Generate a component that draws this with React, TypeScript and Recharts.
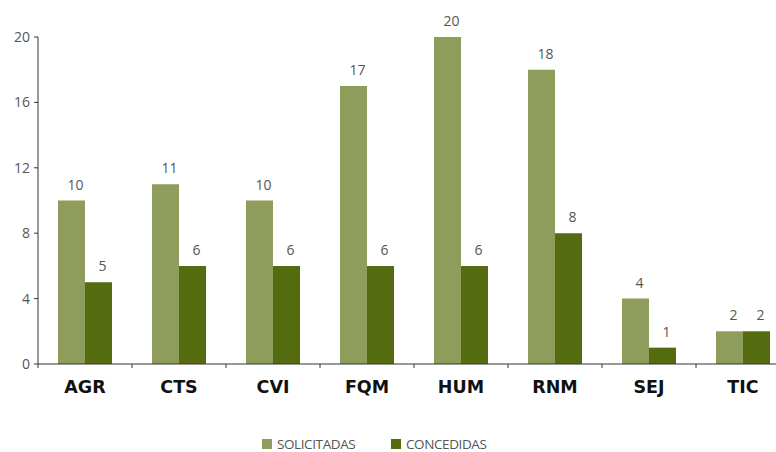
import { BarChart, Bar, XAxis, YAxis, LabelList } from "recharts";

const categories = ["AGR", "CTS", "CVI", "FQM", "HUM", "RNM", "SEJ", "TIC"];
const solicitadas = [10, 11, 10, 17, 20, 18, 4, 2];
const concedidas = [5, 6, 6, 6, 6, 8, 1, 2];
const yTicks = [0, 4, 8, 12, 16, 20];

const LIGHT = "#8e9c5c";
const DARK = "#556b10";
const FONT = "'Open Sans', sans-serif";

const data = categories.map((c, i) => ({
  cat: c,
  solicitadas: solicitadas[i],
  concedidas: concedidas[i],
}));

function CatTick(props: any) {
  const { x, y, payload, index, visibleTicksCount } = props;
  const half = payload.offset ?? 0;
  const last = index === (visibleTicksCount ?? categories.length) - 1;
  return (
    <g>
      <line x1={x - half} x2={x - half} y1={y - 8} y2={y - 4} stroke="#333" />
      {last && <line x1={x + half} x2={x + half} y1={y - 8} y2={y - 4} stroke="#333" />}
      <text
        x={x}
        y={y + 21}
        textAnchor="middle"
        fontFamily="'DejaVu Sans', sans-serif"
        fontWeight={700}
        fontSize={17.5}
        fill="#111"
      >
        {payload.value}
      </text>
    </g>
  );
}

export default function App() {
  return (
    <div style={{ position: "fixed", top: 0, left: 0, width: 776, height: 452, overflow: "hidden", background: "#fff" }}>
      <BarChart
        width={790}
        height={452}
        data={data}
        margin={{ top: 37, right: 0, left: 0, bottom: 48 }}
        barGap={0}
        barCategoryGap={20}
      >
        <XAxis
          dataKey="cat"
          height={40}
          tickLine={false}
          axisLine={{ stroke: "#333" }}
          tick={<CatTick />}
          interval={0}
        />
        <YAxis
          width={38}
          domain={[0, 20]}
          ticks={yTicks}
          tickSize={4}
          tickLine={{ stroke: "#333" }}
          axisLine={{ stroke: "#333" }}
          tick={{ fontFamily: FONT, fontSize: 14, fill: "#555" }}
          tickMargin={4}
        />
        <Bar dataKey="solicitadas" fill={LIGHT} barSize={27} isAnimationActive={false}>
          <LabelList dataKey="solicitadas" position="top" offset={11} dx={4} style={{ fontFamily: FONT, fontSize: 14, fill: "#555" }} />
        </Bar>
        <Bar dataKey="concedidas" fill={DARK} barSize={27} isAnimationActive={false}>
          <LabelList dataKey="concedidas" position="top" offset={11} dx={4} style={{ fontFamily: FONT, fontSize: 14, fill: "#555" }} />
        </Bar>
      </BarChart>
      <div
        style={{
          position: "absolute",
          top: 436,
          left: 262,
          height: 16,
          lineHeight: "16px",
          display: "flex",
          alignItems: "center",
          fontFamily: FONT,
          fontSize: 13.5,
          color: "#555",
          letterSpacing: -0.4,
          zIndex: 5,
        }}
      >
        <span style={{ width: 10, height: 10, background: LIGHT, display: "inline-block", marginRight: 5 }} />
        <span style={{ width: 114 }}>SOLICITADAS</span>
        <span style={{ width: 10, height: 10, background: DARK, display: "inline-block", marginRight: 5 }} />
        <span>CONCEDIDAS</span>
      </div>
    </div>
  );
}
